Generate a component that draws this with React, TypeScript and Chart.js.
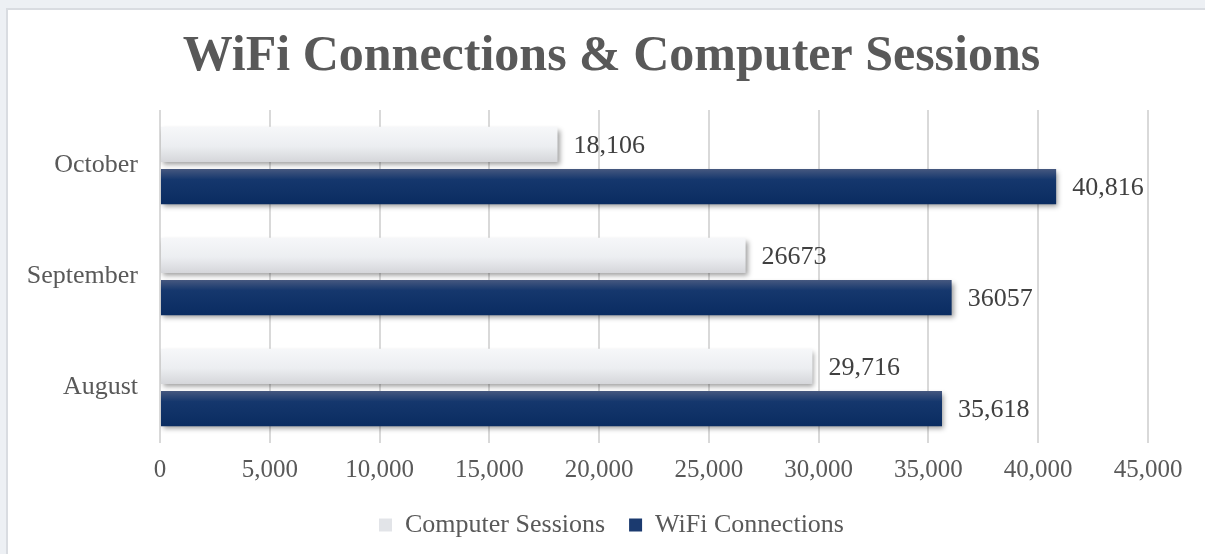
import React, { useEffect, useRef } from 'react';
import { Chart, registerables } from 'chart.js';

Chart.register(...registerables);

const titleText = 'WiFi Connections & Computer Sessions';
const categories = ['October', 'September', 'August'];
const seriesNames = ['Computer Sessions', 'WiFi Connections'];
const computerSessions = [18106, 26673, 29716];
const wifiConnections = [40816, 36057, 35618];
const computerLabels = ['18,106', '26673', '29,716'];
const wifiLabels = ['40,816', '36057', '35,618'];
const axisMin = 0;
const axisMax = 45000;
const axisStep = 5000;

const FONT = '"Liberation Serif", "Times New Roman", serif';
const TEXT = '#595959';
const CAT_PCT = 0.76;
const BAR_PCT = 0.833;

const grayStops: [number, string][] = [
  [0, '#f6f7f9'],
  [0.55, '#eceef1'],
  [1, '#d5d6da'],
];
const navyStops: [number, string][] = [
  [0, '#46587f'],
  [0.3, '#15376d'],
  [1, '#0a2c61'],
];

function barGradient(c: any, stops: [number, string][]) {
  const chart = c.chart;
  const fallback = stops[Math.floor(stops.length / 2)][1];
  if (c.type !== 'data' || !chart.chartArea || !chart.scales || !chart.scales.y) return fallback;
  const y = chart.scales.y;
  const center = y.getPixelForValue(c.dataIndex);
  const cat = Math.abs(y.getPixelForValue(1) - y.getPixelForValue(0));
  if (!isFinite(center) || !isFinite(cat) || cat === 0) return fallback;
  const group = cat * CAT_PCT;
  const chunk = group / 2;
  const barCenter = center - group / 2 + chunk * (c.datasetIndex + 0.5);
  const h = chunk * BAR_PCT;
  const g = chart.ctx.createLinearGradient(0, barCenter - h / 2, 0, barCenter + h / 2);
  stops.forEach(([o, col]) => g.addColorStop(o, col));
  return g;
}

const shadowPlugin = {
  id: 'barShadow',
  beforeDatasetsDraw(chart: any) {
    const ctx = chart.ctx;
    ctx.save();
    ctx.shadowColor = 'rgba(0,0,0,0.38)';
    ctx.shadowBlur = 5;
    ctx.shadowOffsetX = 2;
    ctx.shadowOffsetY = 3;
  },
  afterDatasetsDraw(chart: any) {
    chart.ctx.restore();
  },
};

const valueLabelPlugin = {
  id: 'valueLabels',
  afterDraw(chart: any) {
    const ctx = chart.ctx;
    const texts = [computerLabels, wifiLabels];
    ctx.save();
    ctx.font = `26px ${FONT}`;
    ctx.fillStyle = '#404040';
    ctx.textBaseline = 'middle';
    ctx.textAlign = 'left';
    chart.data.datasets.forEach((_: any, di: number) => {
      chart.getDatasetMeta(di).data.forEach((el: any, i: number) => {
        ctx.fillText(texts[di][i], el.x + 16, el.y + 2);
      });
    });
    ctx.restore();
  },
};

export default function App() {
  const ref = useRef<HTMLCanvasElement | null>(null);

  useEffect(() => {
    if (!ref.current) return;
    const chart = new Chart(ref.current, {
      type: 'bar',
      data: {
        labels: categories,
        datasets: [
          {
            label: seriesNames[0],
            data: computerSessions,
            backgroundColor: (c: any) => barGradient(c, grayStops),
            borderWidth: 0,
          },
          {
            label: seriesNames[1],
            data: wifiConnections,
            backgroundColor: (c: any) => barGradient(c, navyStops),
            borderWidth: 0,
          },
        ],
      },
      options: {
        indexAxis: 'y',
        responsive: false,
        animation: false,
        devicePixelRatio: 1,
        layout: { padding: { top: 0, right: 0, bottom: 6, left: 10 } },
        datasets: { bar: { categoryPercentage: CAT_PCT, barPercentage: BAR_PCT } },
        scales: {
          x: {
            min: axisMin,
            max: axisMax,
            ticks: {
              stepSize: axisStep,
              callback: (v: any) => Number(v).toLocaleString('en-US'),
              font: { family: FONT, size: 25 },
              color: TEXT,
              padding: 12,
              maxRotation: 0,
            },
            grid: { color: '#d9d9d9', lineWidth: 2, drawTicks: false },
            border: { display: false },
            afterFit: (s: any) => {
              s.height = 45;
            },
          },
          y: {
            ticks: { font: { family: FONT, size: 26 }, color: TEXT, padding: 22 },
            grid: { display: false, drawTicks: false },
            border: { display: false },
            afterFit: (s: any) => {
              s.width = 142;
            },
          },
          yRightSpace: {
            type: 'linear',
            position: 'right',
            display: true,
            ticks: { display: false },
            grid: { display: false, drawTicks: false },
            border: { display: false },
            afterFit: (s: any) => {
              s.width = 57;
            },
          },
        },
        plugins: {
          title: {
            display: true,
            text: titleText,
            color: TEXT,
            font: { family: FONT, size: 50, weight: 'bold' },
            padding: { top: 17, bottom: 23 },
          },
          legend: {
            position: 'bottom',
            labels: {
              boxWidth: 13,
              boxHeight: 13,
              padding: 24,
              color: TEXT,
              font: { family: FONT, size: 26 },
              generateLabels: () => [
                { text: seriesNames[0], fillStyle: '#e2e4e8', strokeStyle: '#e2e4e8', lineWidth: 0, hidden: false, datasetIndex: 0, fontColor: TEXT },
                { text: seriesNames[1], fillStyle: '#1b3a6f', strokeStyle: '#1b3a6f', lineWidth: 0, hidden: false, datasetIndex: 1, fontColor: TEXT },
              ],
            },
          },
          tooltip: { enabled: false },
        },
      },
      plugins: [shadowPlugin, valueLabelPlugin],
    } as any);
    return () => chart.destroy();
  }, []);

  return (
    <div style={{ position: 'fixed', left: 0, top: 0, right: 0, bottom: 0, background: '#edf0f4', overflow: 'hidden' }}>
      <div
        style={{
          position: 'absolute',
          left: 6,
          top: 8,
          width: 1210,
          height: 560,
          border: '2px solid #d9dce1',
          background: '#ffffff',
        }}
      >
        <canvas ref={ref} width={1197} height={544} style={{ display: 'block', width: 1197, height: 544 }} />
      </div>
    </div>
  );
}
